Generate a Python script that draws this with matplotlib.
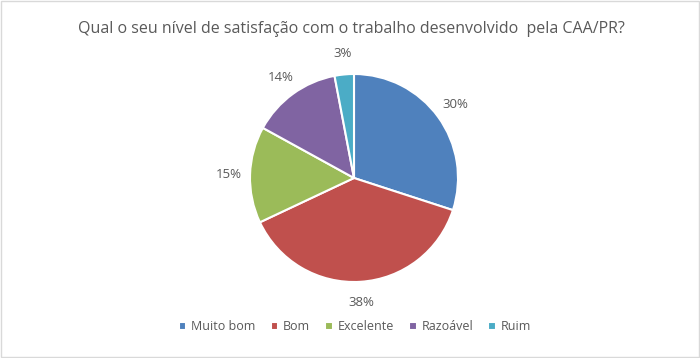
import matplotlib
matplotlib.use("Agg")
import matplotlib.pyplot as plt
from matplotlib.patches import Rectangle

# dados do gráfico
categorias = ["Muito bom", "Bom", "Excelente", "Razoável", "Ruim"]
valores = [30, 38, 15, 14, 3]
cores = ["#4F81BD", "#C0504D", "#9BBB59", "#8064A2", "#4BACC6"]
titulo = "Qual o seu nível de satisfação com o trabalho desenvolvido  pela CAA/PR?"

plt.rcParams['font.family'] = ['Open Sans', 'DejaVu Sans']
cinza = "#595959"

fig = plt.figure(figsize=(7, 3.58), dpi=100)
fig.patch.set_facecolor("white")

# moldura clara
fig.patches.append(Rectangle((0.002, 0.003), 0.996, 0.994, transform=fig.transFigure,
                             fill=False, edgecolor="#D9D9D9", linewidth=1))

ax = fig.add_axes([(354 - 104) / 700, (358 - 282) / 358, 208 / 700, 208 / 358])
wedges, textos, pcts = ax.pie(valores, colors=cores, startangle=90, counterclock=False,
                              radius=1, autopct="%.0f%%", pctdistance=1.2,
                              wedgeprops=dict(edgecolor="white", linewidth=1.5),
                              textprops=dict(color=cinza, fontsize=9.5))
ax.set_aspect("equal")
ax.set_xlim(-1, 1)
ax.set_ylim(-1, 1)
ax.axis("off")

fig.text(0.502, 0.92, titulo, ha="center", va="center", fontsize=11.5, color=cinza)

fig.legend(wedges, categorias, loc="center", bbox_to_anchor=(0.507, 0.087), ncol=5,
           frameon=False, fontsize=9, handlelength=0.6, handleheight=0.6,
           handletextpad=0.4, columnspacing=1.2, labelcolor=cinza)

fig.savefig("out.png", dpi=100)
